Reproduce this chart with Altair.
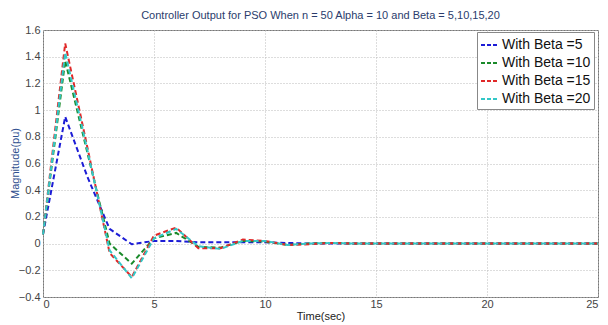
import altair as alt
import pandas as pd

time = list(range(26))
beta5 = [0.07, 0.95, 0.50, 0.11, -0.005, 0.02, 0.02, 0.01, 0.01, 0.01, 0.01, 0.005, 0.0,
         0.0, 0.0, 0.0, 0.0, 0.0, 0.0, 0.0, 0.0, 0.0, 0.0, 0.0, 0.0, 0.0]
beta10 = [0.07, 1.37, 0.68, 0.0, -0.15, 0.04, 0.08, -0.025, -0.03, 0.02, 0.015, -0.01, 0.0,
          0.005, 0.0, 0.0, 0.0, 0.0, 0.0, 0.0, 0.0, 0.0, 0.0, 0.0, 0.0, 0.0]
beta15 = [0.07, 1.50, 0.72, -0.07, -0.25, 0.06, 0.12, -0.035, -0.035, 0.03, 0.02, -0.01, -0.005,
          0.005, 0.0, 0.0, 0.0, 0.0, 0.0, 0.0, 0.0, 0.0, 0.0, 0.0, 0.0, 0.0]
beta20 = [0.07, 1.43, 0.70, -0.05, -0.26, 0.04, 0.11, -0.02, -0.04, 0.02, 0.02, -0.01, 0.0,
          0.005, 0.0, 0.0, 0.0, 0.0, 0.0, 0.0, 0.0, 0.0, 0.0, 0.0, 0.0, 0.0]

names = ["With Beta =5", "With Beta =10", "With Beta =15", "With Beta =20"]
colors = ["#1c1cd6", "#1a8a2a", "#e02828", "#33c7c7"]
series = [beta5, beta10, beta15, beta20]

rows = []
for k, (n, vals) in enumerate(zip(names, series)):
    for t, v in zip(time, vals):
        rows.append({"Time": t, "Value": v, "Series": n, "k": k})
df = pd.DataFrame(rows)

font = "Liberation Sans"

chart = alt.Chart(df).mark_line(strokeWidth=2, strokeDash=[5, 3]).encode(
    x=alt.X("Time:Q", scale=alt.Scale(domain=[0, 25], nice=False),
            axis=alt.Axis(title="Time(sec)", values=[0, 5, 10, 15, 20, 25], grid=True,
                          gridDash=[1, 2], gridColor="#bbbbbb", tickSize=0, labelPadding=1,
                          titlePadding=1, domain=False)),
    y=alt.Y("Value:Q", scale=alt.Scale(domain=[-0.4, 1.6], nice=False),
            axis=alt.Axis(title="Magnitude(pu)", values=[-0.4, -0.2, 0, 0.2, 0.4, 0.6, 0.8, 1.0, 1.2, 1.4, 1.6],
                          format="~g", grid=True, gridDash=[1, 2], gridColor="#bbbbbb",
                          tickSize=0, labelPadding=3, domain=False,
                          titleX=-28, titleY=133, titleAngle=270, titleAlign="center",
                          titleBaseline="middle", titleColor="#2f4f8f")),
    color=alt.Color("Series:N", scale=alt.Scale(domain=names, range=colors),
                    legend=alt.Legend(title=None, orient="none", legendX=434, legendY=2,
                                      symbolType="stroke", symbolDash=[4, 2], symbolStrokeWidth=2,
                                      symbolSize=324, labelFontSize=14, labelFont=font,
                                      labelColor="#111111", fillColor="white",
                                      strokeColor="#888888", padding=3, rowPadding=1,
                                      labelOffset=2)),
    order=alt.Order("k:Q"),
).properties(
    width=555, height=267,
    title=alt.Title("Controller Output for PSO When n = 50 Alpha = 10 and Beta = 5,10,15,20",
                    fontSize=11, font=font, fontWeight="normal", color="#2a3c6c", offset=3),
    autosize=alt.AutoSizeParams(type="none"),
    padding={"left": 35, "top": 22, "right": 2, "bottom": 26},
).configure_axis(
    labelFont=font, titleFont=font, labelFontSize=11, titleFontSize=11,
    labelColor="#444444", titleColor="#222222", titleFontWeight="normal"
).configure_view(stroke="#777777", strokeWidth=1)

chart.save("out.html", embed_options={"renderer": "svg", "actions": False})
